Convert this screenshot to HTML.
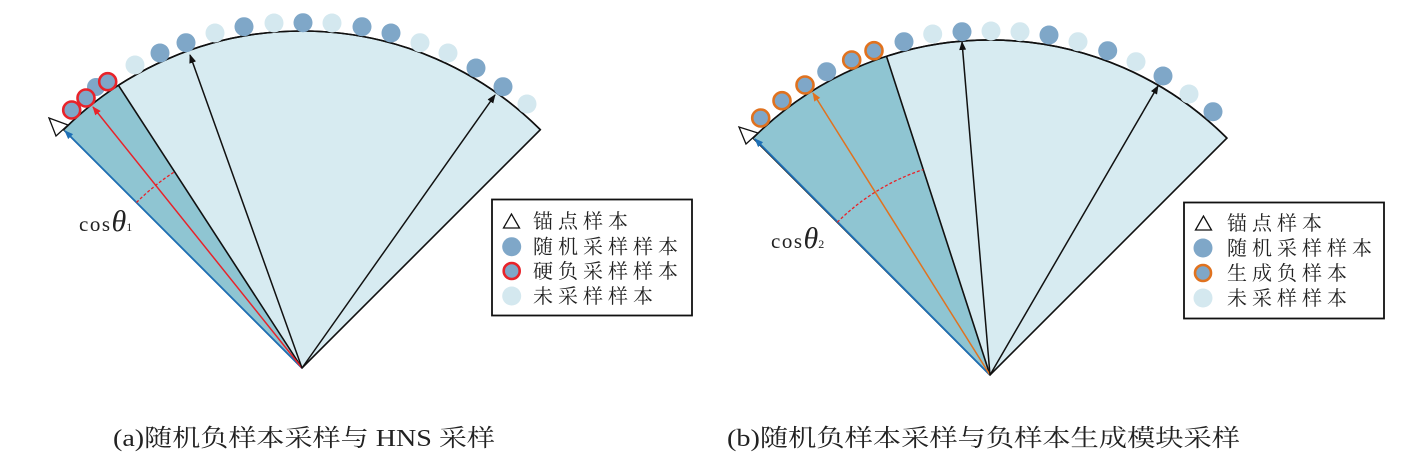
<!DOCTYPE html>
<html><head><meta charset="utf-8"><style>
html,body{margin:0;padding:0;background:#fff;}
svg{display:block;}
.t{font-family:"Liberation Serif","Noto Serif CJK SC","Noto Sans CJK SC",serif;fill:#222;}
</style></head><body>
<svg width="1406" height="459" viewBox="0 0 1406 459" xmlns="http://www.w3.org/2000/svg">
<defs>
<marker id="mk" markerWidth="9" markerHeight="9" refX="8" refY="4.5" orient="auto" markerUnits="userSpaceOnUse"><path d="M0,1 L9,4.5 L0,8 Z" fill="#111"/></marker>
<marker id="mr" markerWidth="9" markerHeight="9" refX="8" refY="4.5" orient="auto" markerUnits="userSpaceOnUse"><path d="M0,1 L9,4.5 L0,8 Z" fill="#e8232a"/></marker>
<marker id="mo" markerWidth="9" markerHeight="9" refX="8" refY="4.5" orient="auto" markerUnits="userSpaceOnUse"><path d="M0,1 L9,4.5 L0,8 Z" fill="#e0721f"/></marker>
<marker id="mb" markerWidth="9" markerHeight="9" refX="8" refY="4.5" orient="auto" markerUnits="userSpaceOnUse"><path d="M0,1 L9,4.5 L0,8 Z" fill="#1e6fb5"/></marker>
</defs>

<!-- LEFT FAN -->
<path d="M302,368 L63.7,129.7 A337,337 0 0 1 540.3,129.7 Z" fill="#d7ebf1" stroke="#111" stroke-width="1.6"/>
<path d="M302,368 L63.7,129.7 A337,337 0 0 1 118.5,85.4 Z" fill="#8fc5d2"/>
<path d="M63.7,129.7 A337,337 0 0 1 540.3,129.7" fill="none" stroke="#111" stroke-width="1.6"/>
<line x1="302" y1="368" x2="118.5" y2="85.4" stroke="#111" stroke-width="1.6"/>
<line x1="302" y1="368" x2="65" y2="131" stroke="#1e6fb5" stroke-width="1.8" marker-end="url(#mb)"/>
<line x1="302" y1="368" x2="93" y2="107" stroke="#e8232a" stroke-width="1.5" marker-end="url(#mr)"/>
<line x1="302" y1="368" x2="190" y2="55" stroke="#111" stroke-width="1.5" marker-end="url(#mk)"/>
<line x1="302" y1="368" x2="495" y2="95" stroke="#111" stroke-width="1.5" marker-end="url(#mk)"/>
<path d="M136.5,202.5 A234,234 0 0 1 174.6,171.7" fill="none" stroke="#e8232a" stroke-width="1.3" stroke-dasharray="3,2"/>
<polygon points="49,118 56,136 68,125" fill="#fff" stroke="#111" stroke-width="1.3"/>
<g stroke-width="2.6">
<circle cx="96" cy="87" r="9" fill="#7fa7c8"/>
<circle cx="71.7" cy="110" r="8.5" fill="#7fa7c8" stroke="#e8232a"/>
<circle cx="86" cy="98" r="8.5" fill="#7fa7c8" stroke="#e8232a"/>
<circle cx="107.7" cy="81.7" r="8.5" fill="#7fa7c8" stroke="#e8232a"/>
</g>
<g fill="#d4e8ef"><circle cx="135" cy="65" r="9.5"/><circle cx="215" cy="33" r="9.5"/><circle cx="274" cy="23" r="9.5"/><circle cx="332" cy="23" r="9.5"/><circle cx="420" cy="42.7" r="9.5"/><circle cx="448" cy="53" r="9.5"/><circle cx="527" cy="104" r="9.5"/></g>
<g fill="#7fa7c8"><circle cx="160" cy="53" r="9.5"/><circle cx="186" cy="42.7" r="9.5"/><circle cx="244" cy="26.7" r="9.5"/><circle cx="303" cy="22.7" r="9.5"/><circle cx="362" cy="26.7" r="9.5"/><circle cx="391" cy="33" r="9.5"/><circle cx="476" cy="68" r="9.5"/><circle cx="503" cy="86.7" r="9.5"/></g>
<text class="t" x="79" y="231" font-size="21" letter-spacing="1.5">cos<tspan font-style="italic" font-size="30" letter-spacing="0">θ</tspan><tspan font-size="12">1</tspan></text>

<!-- LEFT LEGEND -->
<rect x="492" y="199.5" width="200" height="116" fill="#fff" stroke="#111" stroke-width="1.8"/>
<polygon points="511.5,214 503.5,228 519.5,228" fill="#fff" stroke="#111" stroke-width="1.3"/>
<circle cx="511.7" cy="246.7" r="9.5" fill="#7fa7c8"/>
<circle cx="511.7" cy="271" r="8" fill="#7fa7c8" stroke="#e8232a" stroke-width="2.6"/>
<circle cx="511.7" cy="296" r="9.5" fill="#d4e8ef"/>
<g class="t" font-size="20" letter-spacing="5">
<text x="533" y="228">锚点样本</text>
<text x="533" y="253.5">随机采样样本</text>
<text x="533" y="278">硬负采样样本</text>
<text x="533" y="303">未采样样本</text>
</g>

<!-- RIGHT FAN -->
<path d="M990,375 L753.1,138.1 A335,335 0 0 1 1226.9,138.1 Z" fill="#d7ebf1" stroke="#111" stroke-width="1.6"/>
<path d="M990,375 L753.1,138.1 A335,335 0 0 1 886.5,56.4 Z" fill="#8fc5d2"/>
<path d="M753.1,138.1 A335,335 0 0 1 1226.9,138.1" fill="none" stroke="#111" stroke-width="1.6"/>
<line x1="990" y1="375" x2="886.5" y2="56.4" stroke="#111" stroke-width="1.6"/>
<line x1="990" y1="375" x2="755" y2="139" stroke="#1e6fb5" stroke-width="1.8" marker-end="url(#mb)"/>
<line x1="990" y1="375" x2="813" y2="93" stroke="#e0721f" stroke-width="1.5" marker-end="url(#mo)"/>
<line x1="990" y1="375" x2="962" y2="42" stroke="#111" stroke-width="1.5" marker-end="url(#mk)"/>
<line x1="990" y1="375" x2="1158" y2="86" stroke="#111" stroke-width="1.5" marker-end="url(#mk)"/>
<path d="M837.3,222.3 A216,216 0 0 1 923.3,169.6" fill="none" stroke="#e8232a" stroke-width="1.3" stroke-dasharray="3,2"/>
<polygon points="739,127 746,144 758,133" fill="#fff" stroke="#111" stroke-width="1.3"/>
<g fill="#7fa7c8" stroke="#e0721f" stroke-width="2.6">
<circle cx="760.7" cy="118" r="8.5"/><circle cx="782" cy="100.7" r="8.5"/><circle cx="805" cy="85" r="8.5"/><circle cx="851.7" cy="60" r="8.5"/><circle cx="874" cy="50.7" r="8.5"/>
</g>
<g fill="#d4e8ef"><circle cx="932.7" cy="34" r="9.5"/><circle cx="991" cy="31" r="9.5"/><circle cx="1020" cy="31.7" r="9.5"/><circle cx="1078" cy="41.7" r="9.5"/><circle cx="1136" cy="61.7" r="9.5"/><circle cx="1189" cy="94" r="9.5"/></g>
<g fill="#7fa7c8"><circle cx="826.7" cy="71.7" r="9.5"/><circle cx="904" cy="41.7" r="9.5"/><circle cx="962" cy="31.7" r="9.5"/><circle cx="1049" cy="35" r="9.5"/><circle cx="1107.7" cy="50.7" r="9.5"/><circle cx="1163" cy="76" r="9.5"/><circle cx="1213" cy="111.7" r="9.5"/></g>
<text class="t" x="771" y="248" font-size="21" letter-spacing="1.5">cos<tspan font-style="italic" font-size="30" letter-spacing="0">θ</tspan><tspan font-size="12">2</tspan></text>

<!-- RIGHT LEGEND -->
<rect x="1184" y="202.5" width="200" height="116" fill="#fff" stroke="#111" stroke-width="1.8"/>
<polygon points="1203.5,216 1195.5,230 1211.5,230" fill="#fff" stroke="#111" stroke-width="1.3"/>
<circle cx="1203" cy="248" r="9.5" fill="#7fa7c8"/>
<circle cx="1203" cy="273" r="8" fill="#7fa7c8" stroke="#e0721f" stroke-width="2.6"/>
<circle cx="1203" cy="298" r="9.5" fill="#d4e8ef"/>
<g class="t" font-size="20" letter-spacing="5">
<text x="1227" y="230">锚点样本</text>
<text x="1227" y="255">随机采样样本</text>
<text x="1227" y="280">生成负样本</text>
<text x="1227" y="305">未采样样本</text>
</g>

<!-- CAPTIONS -->
<text class="t" x="113" y="446" font-size="24" textLength="382" lengthAdjust="spacingAndGlyphs">(a)随机负样本采样与 HNS 采样</text>
<text class="t" x="727" y="446" font-size="24" textLength="513" lengthAdjust="spacingAndGlyphs">(b)随机负样本采样与负样本生成模块采样</text>
</svg>
</body></html>
